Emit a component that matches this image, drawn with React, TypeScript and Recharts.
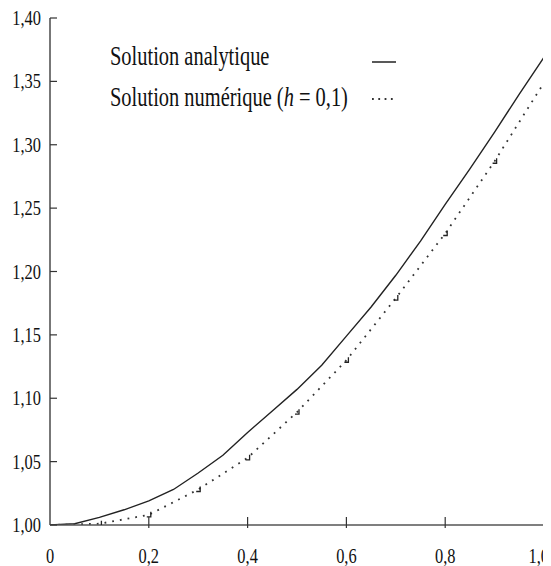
import React from "react";
import { LineChart, Line, XAxis, YAxis, Customized } from "recharts";

// Analytic solution, sampled every 0.05
const analyticX = [0, 0.05, 0.1, 0.15, 0.2, 0.25, 0.3, 0.35, 0.4, 0.45, 0.5, 0.55, 0.6, 0.65, 0.7, 0.75, 0.8, 0.85, 0.9, 0.95, 1.0];
const analyticY = [1.0, 1.001, 1.006, 1.012, 1.019, 1.028, 1.041, 1.055, 1.073, 1.09, 1.107, 1.126, 1.149, 1.172, 1.197, 1.224, 1.253, 1.281, 1.31, 1.34, 1.369];

// Numerical solution (h = 0,1)
const numericX = [0, 0.1, 0.2, 0.3, 0.4, 0.5, 0.6, 0.7, 0.8, 0.9, 1.0];
const numericY = [1.0, 1.001, 1.008, 1.028, 1.053, 1.089, 1.13, 1.179, 1.23, 1.287, 1.349];

const xTicks = [0, 0.2, 0.4, 0.6, 0.8, 1.0];
const xTickLabels = ["0", "0,2", "0,4", "0,6", "0,8", "1,0"];
const yTicks = [1.0, 1.05, 1.1, 1.15, 1.2, 1.25, 1.3, 1.35, 1.4];
const yTickLabels = ["1,00", "1,05", "1,10", "1,15", "1,20", "1,25", "1,30", "1,35", "1,40"];

const legendAnalytic = "Solution analytique";
const legendNumericPrefix = "Solution numérique (";
const legendNumericVar = "h";
const legendNumericSuffix = " = 0,1)";

const analyticData = analyticX.map((x, i) => ({ x, y: analyticY[i] }));
const numericData = numericX.map((x, i) => ({ x, y: numericY[i] }));

const FONT = "'Liberation Serif', 'DejaVu Serif', serif";

const YTick = (props: any) => {
  const { x, y, payload, index } = props;
  const label = yTickLabels[yTicks.indexOf(payload.value)] ?? String(payload.value);
  return (
    <g key={`yt-${index}`}>
      <line x1={x} y1={y} x2={x + 7} y2={y} stroke="#333" strokeWidth={1.2} />
      <text
        transform={`translate(${x - 9},${y + 7}) scale(0.82,1)`}
        textAnchor="end"
        fontFamily={FONT}
        fontSize={20}
        fill="#111"
      >
        {label}
      </text>
    </g>
  );
};

const XTick = (props: any) => {
  const { x, y, payload, index } = props;
  const i = xTicks.indexOf(payload.value);
  const label = xTickLabels[i] ?? String(payload.value);
  const isLast = i === xTicks.length - 1;
  return (
    <g key={`xt-${index}`}>
      {i > 0 && !isLast ? (
        <line x1={x} y1={y - 8} x2={x} y2={y + 3} stroke="#333" strokeWidth={1.2} />
      ) : null}
      <text
        transform={`translate(${isLast ? x + 5 : x},${y + 38}) scale(0.82,1)`}
        textAnchor={isLast ? "end" : "middle"}
        fontFamily={FONT}
        fontSize={20}
        fill="#111"
      >
        {label}
      </text>
    </g>
  );
};

const NumDot = (props: any) => {
  const { cx, cy, index } = props;
  if (index === 0 || index === numericX.length - 1 || cx == null) {
    return <g key={`nd-${index}`} />;
  }
  return (
    <path
      key={`nd-${index}`}
      d={`M${cx + 2},${cy - 3} V${cy + 2} H${cx - 2}`}
      stroke="#222"
      strokeWidth={1.3}
      fill="none"
    />
  );
};

const LegendBox = () => (
  <g>
    <text transform="translate(102,57) scale(0.73,1)" fontFamily={FONT} fontSize={28} fill="#111">
      {legendAnalytic}
    </text>
    <line x1={364} y1={54} x2={388} y2={54} stroke="#222" strokeWidth={1.5} />
    <text transform="translate(102,98) scale(0.73,1)" fontFamily={FONT} fontSize={28} fill="#111">
      {legendNumericPrefix}
      <tspan fontStyle="italic">{legendNumericVar}</tspan>
      {legendNumericSuffix}
    </text>
    <line x1={364} y1={91} x2={388} y2={91} stroke="#333" strokeWidth={1.8} strokeDasharray="1.8 4.5" />
  </g>
);

export default function App() {
  return (
    <div style={{ width: 543, height: 558, background: "#fff" }}>
      <style>{"html,body{overflow:hidden;}"}</style>
      <LineChart
        width={543}
        height={558}
        margin={{ top: 10, right: 7, bottom: 0, left: 0 }}
        style={{ overflow: "visible" }}
      >
        <XAxis
          xAxisId="bottom"
          type="number"
          dataKey="x"
          domain={[0, 1]}
          ticks={xTicks}
          allowDataOverflow
          height={41}
          tickSize={0}
          tickMargin={0}
          tickLine={false}
          axisLine={{ stroke: "#555", strokeWidth: 1.6 }}
          tick={<XTick />}
          interval={0}
        />
        <XAxis
          xAxisId="top"
          orientation="top"
          type="number"
          dataKey="x"
          domain={[0, 1]}
          height={0}
          tick={false}
          tickLine={false}
          axisLine={{ stroke: "#555", strokeWidth: 1.6 }}
        />
        <YAxis
          yAxisId="left"
          type="number"
          domain={[1.0, 1.4]}
          ticks={yTicks}
          allowDataOverflow
          width={42}
          tickSize={0}
          tickMargin={0}
          tickLine={false}
          axisLine={{ stroke: "#555", strokeWidth: 1.6 }}
          tick={<YTick />}
          interval={0}
        />
        <YAxis
          yAxisId="right"
          orientation="right"
          type="number"
          domain={[1.0, 1.4]}
          width={0}
          tick={false}
          tickLine={false}
          axisLine={{ stroke: "#555", strokeWidth: 1.6 }}
        />
        <Line
          xAxisId="bottom"
          yAxisId="left"
          data={analyticData}
          dataKey="y"
          type="linear"
          stroke="#222"
          strokeWidth={1.4}
          dot={false}
          isAnimationActive={false}
        />
        <Line
          xAxisId="bottom"
          yAxisId="left"
          data={numericData}
          dataKey="y"
          type="linear"
          stroke="#333"
          strokeWidth={1.8}
          strokeDasharray="1.8 6"
          dot={<NumDot />}
          activeDot={false}
          isAnimationActive={false}
        />
        <Customized component={LegendBox} />
      </LineChart>
    </div>
  );
}
